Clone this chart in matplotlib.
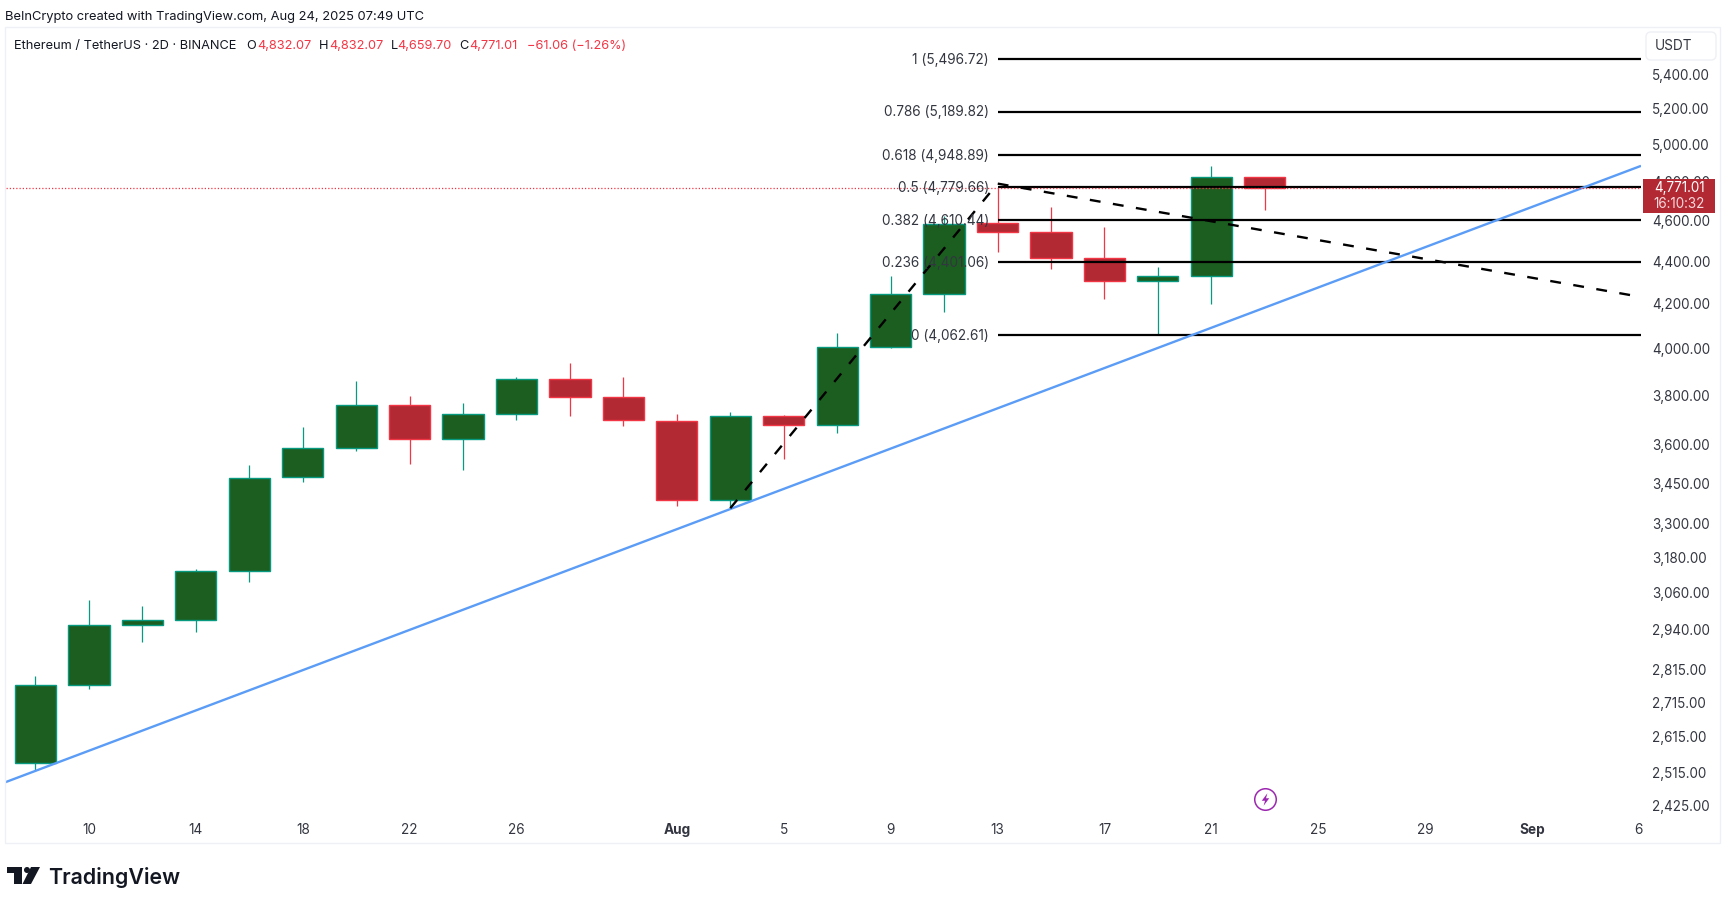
import matplotlib
matplotlib.use("Agg")
import matplotlib.pyplot as plt
from matplotlib.patches import Rectangle, FancyBboxPatch, Polygon, Circle
from matplotlib.transforms import Affine2D

plt.rcParams["font.family"] = ["Inter", "DejaVu Sans"]

WIDTH, HEIGHT = 1726, 902

# candles, one every 2 days
opens = [2543, 2771, 2958, 2973, 3139, 3477, 3592, 3763, 3627, 3725, 3872, 3795,
         3698, 3393, 3720, 3683, 4009, 4251, 4591, 4547, 4422, 4312, 4336, 4832.07]
highs = [2797, 3040, 3020, 3144, 3524, 3674, 3863, 3801, 3772, 3880, 3940, 3880,
         3727, 3736, 3722, 4072, 4335, 4630, 4780, 4675, 4575, 4377, 4890, 4832.07]
lows = [2523, 2758, 2904, 2934, 3101, 3460, 3580, 3529, 3505, 3700, 3718, 3679,
        3370, 3366, 3548, 3651, 4005, 4167, 4451, 4368, 4227, 4066, 4203, 4659.70]
closes = [2770, 2958, 2973, 3138, 3476, 3592, 3763, 3627, 3725, 3872, 3795, 3700,
          3393, 3720, 3683, 4009, 4250, 4590, 4547, 4422, 4312, 4336, 4832, 4771.01]

# fib levels
fib_ratios = ["1", "0.786", "0.618", "0.5", "0.382", "0.236", "0"]
fib_prices = [5496.72, 5189.82, 4948.89, 4779.66, 4610.44, 4401.06, 4062.61]

# drawings
trend_x = [-0.56, 30.04]
trend_y = [2490, 4890]
zigzag_x = [13, 18, 30.04]
zigzag_y = [3361, 4796, 4236]

price_ticks = [5400, 5200, 5000, 4800, 4600, 4400, 4200, 4000, 3800, 3600, 3450,
               3300, 3180, 3060, 2940, 2815, 2715, 2615, 2515, 2425]
date_ticks = [1, 3, 5, 7, 9, 12, 14, 16, 18, 20, 22, 24, 26, 28, 30]
date_labels = ["10", "14", "18", "22", "26", "Aug", "5", "9", "13", "17", "21", "25", "29", "Sep", "6"]

last_price = 4771.01
earnings_x, earnings_y = 23, 2444

UP_FILL, UP_EDGE = "#1b5e20", "#089981"
DOWN_FILL, DOWN_EDGE = "#b22833", "#f23645"
INK = "#131722"
AXIS_INK = "#333640"
FAINT = "#eef0f5"

# pixel coordinates of the picture, y pointing down
PIXELS = Affine2D().scale(1, -1).translate(0, HEIGHT)


def fx(x):
    return x / WIDTH


def fy(y):
    return 1 - y / HEIGHT


def px_text(x, y, s, **kw):
    kw.setdefault("va", "center")
    kw.setdefault("color", INK)
    return fig.text(fx(x), fy(y), s, **kw)


fig = plt.figure(figsize=(WIDTH / 100, HEIGHT / 100), dpi=100, facecolor="white")

# panel frame
fig.add_artist(Rectangle((5, 27), 1715, 816, transform=PIXELS,
                         fill=False, edgecolor=FAINT, linewidth=1))

ax = fig.add_axes([fx(5.5), fy(815), fx(1635.5), 787.5 / HEIGHT])
ax.set_yscale("log")
ax.set_xlim(-0.561, 30.04)
ax.set_ylim(2402, 5690)
ax.patch.set_alpha(0)
for spine in ax.spines.values():
    spine.set_visible(False)

ax.yaxis.tick_right()
ax.set_yticks(price_ticks)
ax.set_yticklabels([f"{p:,.2f}" for p in price_ticks])
ax.minorticks_off()
ax.tick_params(axis="y", length=0, pad=7.9, labelsize=9.7, labelcolor=AXIS_INK)
ax.set_xticks(date_ticks)
ax.set_xticklabels(date_labels)
ax.tick_params(axis="x", length=0, pad=5.5, labelsize=9.8, labelcolor=AXIS_INK)
for tick in ax.get_xticklabels():
    if tick.get_text() in ("Aug", "Sep"):
        tick.set_fontweight("bold")
for tick in ax.yaxis.get_major_ticks():
    tick.label2.set_verticalalignment("center_baseline")
    tick.label2.set_transform(tick.label2.get_transform() + Affine2D().translate(0, 1))

# candles
for i, (o, h, l, c) in enumerate(zip(opens, highs, lows, closes)):
    up = c >= o
    edge = UP_EDGE if up else DOWN_EDGE
    fill = UP_FILL if up else DOWN_FILL
    ax.vlines(i, l, h, color=edge, linewidth=0.9, zorder=2)
    ax.bar(i, abs(c - o), bottom=min(o, c), width=0.77, color=fill, edgecolor=edge,
           linewidth=1.0, zorder=3)

# last price line
ax.axhline(last_price, color=DOWN_EDGE, linewidth=0.9, linestyle=(0, (1, 1.6)), zorder=6)

# fib retracement
for ratio, price in zip(fib_ratios, fib_prices):
    ax.plot([18, 30.04], [price, price], color="black", linewidth=1.6, zorder=5,
            solid_capstyle="butt")
    ax.annotate(f"{ratio} ({price:,.2f})", (17.84, price), xytext=(0, -0.7), textcoords="offset points",
                ha="right", va="center", fontsize=9.8, color=AXIS_INK, zorder=7)

ax.plot(trend_x, trend_y, color="#5b9cf6", linewidth=1.7, zorder=5, solid_capstyle="butt")
ax.plot(zigzag_x, zigzag_y, color="black", linewidth=1.7, linestyle=(0, (4.6, 5.3)), zorder=6)

# earnings marker
ax.plot(earnings_x, earnings_y, marker="o", markersize=15.5, markerfacecolor="white",
        markeredgecolor="#9c27b0", markeredgewidth=1.1, zorder=6)
ax.plot(earnings_x, earnings_y, marker=[(1.5, 5), (-3, -1), (-0.4, -1), (-1.5, -5), (3, 1), (0.4, 1)],
        markersize=9, color="#9c27b0", markeredgewidth=0, zorder=7)

# header
px_text(5, 17, "BeInCrypto created with TradingView.com, Aug 24, 2025 07:49 UTC", fontsize=9.3)
legend_parts = [
    (14, "Ethereum / TetherUS · 2D · BINANCE", INK),
    (246.4, "O", INK), (257.6, "4,832.07", DOWN_EDGE),
    (318.7, "H", INK), (329, "4,832.07", DOWN_EDGE),
    (390.6, "L", INK), (397.3, "4,659.70", DOWN_EDGE),
    (459.4, "C", INK), (468.8, "4,771.01", DOWN_EDGE),
    (526.8, "−61.06 (−1.26%)", DOWN_EDGE),
]
for x, s, col in legend_parts:
    px_text(x, 46, s, fontsize=9.2, color=col)

# price scale extras
fig.add_artist(FancyBboxPatch((1646, 32), 70, 28, boxstyle="round,pad=0,rounding_size=5",
                              transform=PIXELS, facecolor="white", edgecolor=FAINT, linewidth=1))
px_text(1673.5, 46, "USDT", fontsize=9.8, color=AXIS_INK, ha="center")

fig.add_artist(Rectangle((1643, 179), 72, 34, transform=PIXELS,
                         facecolor=DOWN_FILL, edgecolor="none", zorder=10))
px_text(1679.5, 188, "4,771.01", fontsize=9.7, color="white", ha="center", zorder=11)
px_text(1679.5, 203.5, "16:10:32", fontsize=9.7, color="#f6d9dc", ha="center", zorder=11)

# TradingView logo
logo = [
    [(7, 867), (22, 867), (22, 884), (14, 884), (14, 873), (7, 873)],
    [(31, 867), (40, 867), (31, 884), (22.5, 884)],
]
for pts in logo:
    fig.add_artist(Polygon(pts, closed=True, transform=PIXELS, facecolor=INK, edgecolor="none"))
fig.add_artist(Circle((27, 870), 3, transform=PIXELS, facecolor=INK, edgecolor="none"))
px_text(48, 877.5, "TradingView", fontsize=15.4, fontweight="semibold", color=INK)

fig.savefig("out.png", dpi=100, facecolor="white")
